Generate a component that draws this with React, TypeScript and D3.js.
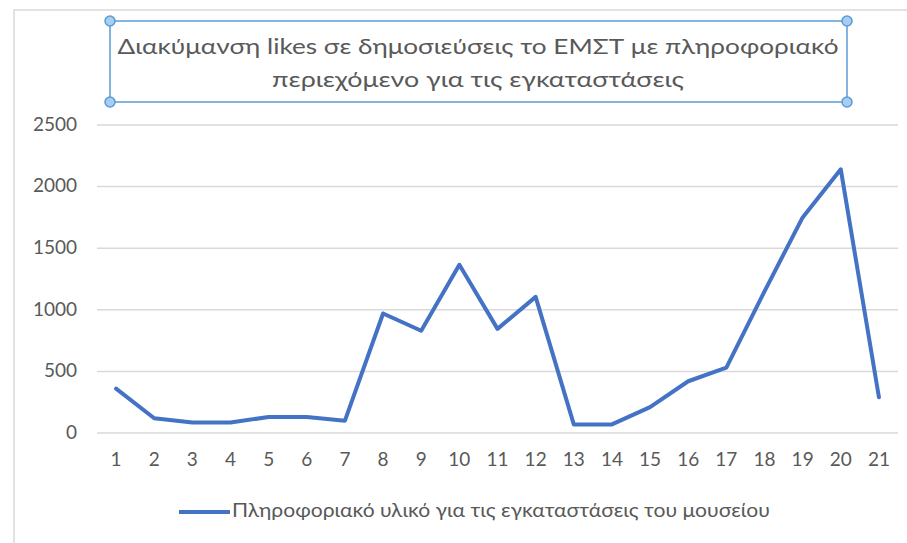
import React from "react";
import * as d3 from "d3";

const categories: string[] = Array.from({ length: 21 }, (_, i) => String(i + 1));
const likes: number[] = [360, 120, 85, 85, 130, 130, 100, 970, 830, 1365, 845, 1105, 70, 70, 210, 420, 530, 1150, 1750, 2140, 290];
const yTicks: number[] = [0, 500, 1000, 1500, 2000, 2500];
const titleLines: string[] = [
  "Διακύμανση likes σε δημοσιεύσεις το ΕΜΣΤ με πληροφοριακό",
  "περιεχόμενο για τις εγκαταστάσεις",
];
const seriesName = "Πληροφοριακό υλικό για τις εγκαταστάσεις του μουσείου";

const W = 907;
const H = 543;
const FONT = "Lato, 'Open Sans', sans-serif";

export default function App() {
  const x = d3.scaleBand<string>().domain(categories).range([97, 898]);
  const y = d3.scaleLinear().domain([0, 2500]).range([433, 125]);
  const line = d3
    .line<number>()
    .x((_, i) => (x(categories[i]) as number) + x.bandwidth() / 2)
    .y((d) => y(d));

  const box = { x0: 110, y0: 21, x1: 847, y1: 102 };
  const handles = [
    [box.x0, box.y0],
    [box.x1, box.y0],
    [box.x0, box.y1],
    [box.x1, box.y1],
  ];
  const titleWidths = [721, 412];

  return (
    <svg
      width={W}
      height={H}
      style={{ position: "absolute", left: 0, top: 0, background: "#fff" }}
    >
      <rect x={0} y={0} width={W} height={H} fill="#fff" />
      {/* chart frame */}
      <path d={`M14,${H} L14,10 L${W},10`} fill="none" stroke="#d9d9d9" strokeWidth={1.5} />

      {/* gridlines */}
      {yTicks.map((t) => (
        <line key={t} x1={97} x2={898} y1={y(t)} y2={y(t)} stroke="#d9d9d9" strokeWidth={1.5} />
      ))}
      {/* y labels */}
      {yTicks.map((t) => (
        <text
          key={"l" + t}
          x={77}
          y={y(t)}
          dy="0.3em"
          textAnchor="end"
          fontFamily={FONT}
          fontSize={19}
          fill="#595959"
        >
          {t}
        </text>
      ))}
      {/* x labels */}
      {categories.map((c) => (
        <text
          key={"x" + c}
          x={(x(c) as number) + x.bandwidth() / 2}
          y={466}
          textAnchor="middle"
          fontFamily={FONT}
          fontSize={19}
          fill="#595959"
        >
          {c}
        </text>
      ))}

      {/* data line */}
      <path
        d={line(likes) as string}
        fill="none"
        stroke="#4472c4"
        strokeWidth={4}
        strokeLinejoin="round"
        strokeLinecap="round"
      />

      {/* title box */}
      <rect
        x={box.x0}
        y={box.y0}
        width={box.x1 - box.x0}
        height={box.y1 - box.y0}
        fill="none"
        stroke="#5b9bd5"
        strokeWidth={1.5}
      />
      {titleLines.map((t, i) => (
        <text
          key={"t" + i}
          x={478 - titleWidths[i] / 2}
          y={54 + i * 33}
          textLength={titleWidths[i]}
          lengthAdjust="spacingAndGlyphs"
          fontFamily={FONT}
          fontSize={22}
          fill="#595959"
        >
          {t}
        </text>
      ))}
      {handles.map(([hx, hy], i) => (
        <circle key={"h" + i} cx={hx} cy={hy} r={5} fill="#a9cdf0" stroke="#5b9bd5" strokeWidth={1.5} />
      ))}

      {/* legend */}
      <line x1={179} x2={230} y1={512} y2={512} stroke="#4472c4" strokeWidth={4} />
      <text
        x={232}
        y={517}
        textLength={538}
        lengthAdjust="spacingAndGlyphs"
        fontFamily={FONT}
        fontSize={19}
        fill="#595959"
      >
        {seriesName}
      </text>
    </svg>
  );
}
